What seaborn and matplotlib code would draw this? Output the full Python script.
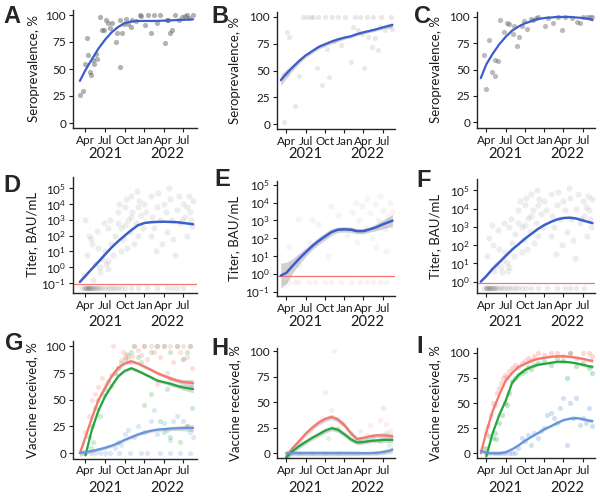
import numpy as np
import pandas as pd
import matplotlib
matplotlib.use("Agg")
import matplotlib.pyplot as plt
import matplotlib.transforms as mtrans
from matplotlib.ticker import NullLocator, FixedLocator
import seaborn as sns

# ---------------------------------------------------------------- data
# smoothed-curve grid
curve_dates = ["2021-03-06", "2021-04-01", "2021-05-01", "2021-06-01", "2021-07-01", "2021-08-01",
               "2021-09-01", "2021-10-01", "2021-11-01", "2021-12-01", "2022-01-01", "2022-02-01",
               "2022-03-01", "2022-04-01", "2022-05-01", "2022-06-01", "2022-07-01", "2022-08-01",
               "2022-08-16"]
nan = np.nan

# Row 1: seroprevalence (%)
a_curve = [39, 49, 59, 69, 77, 84, 89, 92.5, 94, 94.5, 94.5, 94.5, 94.5, 94.8, 95, 95.3, 95.5, 95.8, 96]
b_curve = [41, 47, 53, 59, 64, 68, 72, 74.5, 77, 79, 80.7, 82, 84, 85.7, 87, 88.5, 90.3, 91.8, 92.5]
b_band = [5, 4, 3, 2.5, 2, 2, 2, 2, 2, 2, 1.5, 1.5, 1.5, 1.5, 1.5, 1.5, 1.5, 2, 2.5]
c_curve = [42, 55, 65, 74, 81, 87, 91, 94, 96, 98, 99, 99.5, 100, 100, 100, 99.5, 99, 98, 97]

# points: months since 2021-03-01, value
a_pts_m = [0.2, 0.7, 1.2, 1.0, 1.4, 1.7, 1.9, 2.2, 2.4, 2.7, 2.8, 3.2, 3.5, 3.8, 4.2, 4.4, 4.8, 5.1,
           5.7, 5.9, 6.3, 6.6, 6.9, 7.3, 7.6, 8.0, 8.2, 8.7, 9.3, 9.5, 10.2, 10.6, 11.1, 11.5, 11.9,
           12.4, 13.2, 13.5, 13.7, 14.0, 14.3, 14.7, 15.3, 15.8, 16.3, 16.6, 16.8, 17.5, 6.3]
a_pts_v = [26, 30, 79, 55, 63, 47, 44, 58, 55, 64, 59, 98, 86, 86, 95, 93, 88, 93,
           75, 83, 95, 83, 92, 96, 92, 89, 95, 94, 100, 99, 91, 100, 83, 100, 93,
           100, 74, 95, 95, 83, 86, 100, 95, 98, 99, 100, 97, 100, 52]
b_pts_m = [0.6, 1.1, 1.5, 1.2, 2.3, 3.0, 4.3, 5.1, 5.8, 6.6, 7.0, 7.4, 7.7, 8.1, 8.5, 9.1, 9.5, 10.1,
           11.0, 11.4, 11.7, 12.1, 12.4, 12.8, 13.1, 13.5, 13.7, 14.3, 14.5, 14.8, 15.2, 15.6, 15.8,
           16.4, 16.9, 17.3, 17.5, 3.6, 4.8, 6.0]
b_pts_v = [2, 86, 81, 47, 17, 45, 100, 100, 52, 36, 100, 70, 44, 100, 78, 100, 74, 100,
           58, 91, 100, 88, 100, 84, 52, 100, 81, 72, 100, 80, 69, 91, 100,
           88, 92, 100, 89, 100, 100, 100]
c_pts_m = [1.0, 0.6, 1.5, 1.9, 2.3, 2.4, 2.8, 3.2, 3.7, 4.2, 4.5, 5.1, 5.3, 5.8, 6.1, 6.5, 6.9, 7.3,
           7.9, 8.2, 8.7, 9.1, 10.1, 10.6, 11.4, 12.2, 12.7, 13.2, 14.3, 15.1, 15.6, 16.1, 16.6,
           17.2, 17.5]
c_pts_v = [32, 64, 78, 48, 44, 59, 58, 97, 86, 94, 93, 84, 91, 72, 81, 91, 96, 89,
           98, 97, 99, 100, 91, 99, 94, 100, 88, 100, 99, 95, 94, 100, 100, 100, 100]

# Row 2: titer (log10 BAU/mL)
d_curve = [-0.93, -0.55, -0.1, 0.35, 0.8, 1.25, 1.65, 2.0, 2.35, 2.65, 2.8, 2.85, 2.87, 2.88, 2.87,
           2.85, 2.8, 2.75, 2.72]
e_curve = [-0.1, 0.05, 0.45, 0.85, 1.2, 1.55, 1.85, 2.1, 2.35, 2.48, 2.5, 2.48, 2.4, 2.4, 2.5,
           2.62, 2.78, 2.92, 2.99]
e_band = [0.7, 0.6, 0.4, 0.3, 0.25, 0.2, 0.2, 0.2, 0.18, 0.15, 0.15, 0.15, 0.15, 0.15, 0.15,
          0.2, 0.25, 0.3, 0.35]
f_curve = [0.0, 0.3, 0.7, 1.05, 1.4, 1.75, 2.05, 2.35, 2.62, 2.88, 3.1, 3.27, 3.4, 3.48, 3.5,
           3.45, 3.35, 3.25, 3.2]
d_cutoff, e_cutoff, f_cutoff = 0.093, 0.78, 0.81
d_floor, e_floor, f_floor = 0.047, 0.36, 0.44

d_cloud_m = [1.0, 1.5, 2.0, 2.5, 3.3, 3.3, 3.5, 2.8, 4.0, 4.5, 5.0, 4.8, 1.2, 0.8, 2.2, 3.0, 5.5, 5.3,
             3.8, 1.8, 4.2, 4.4, 4.5,
             6.0, 6.2, 6.5, 6.8, 7.0, 7.2, 7.5, 7.8, 8.0, 8.2, 8.5, 8.7, 9.0, 9.2, 9.5, 9.8, 10.0,
             6.5, 7.4, 8.9, 10.3, 6.0, 7.0, 8.0, 9.0,
             11.0, 11.2, 11.5, 12.0, 12.2, 12.5, 12.8, 13.0, 13.3, 13.5, 14.0, 14.2, 14.5, 15.0,
             15.3, 15.5, 16.0, 16.2, 16.5, 16.8, 17.0, 17.3, 17.5, 11.8, 14.8, 16.6, 13.8, 11.0,
             15.8, 17.2]
d_cloud_v = [3.0, 2.0, 1.5, 0.2, 0.0, -0.3, 0.5, 2.3, 1.0, 2.5, 1.5, 3.0, 0.8, -0.5, -0.8, 1.2, 2.0,
             0.8, 2.8, 1.8, 0.2, -0.1, 0.4,
             3.5, 4.0, 2.5, 1.8, 3.8, 4.3, 3.0, 2.2, 4.5, 3.5, 1.5, 2.8, 3.8, 4.2, 3.3, 2.5, 4.0,
             1.0, 1.2, 4.8, 3.5, 2.8, 2.7, 3.2, 2.0,
             4.5, 3.2, 2.5, 3.8, 4.7, 3.0, 1.5, 4.0, 3.5, 2.2, 4.3, 3.0, 1.8, 3.6,
             4.5, 2.8, 4.0, 3.2, 3.8, 4.5, 3.5, 2.6, 4.2, 1.0, 0.8, 2.0, 5.0, 2.0,
             3.0, 3.0]
d_floor_m = [0.5, 0.8, 1.0, 1.1, 1.2, 1.3, 1.4, 1.5, 1.6, 1.7, 1.8, 2.0, 2.1, 2.3, 2.5, 2.8, 3.0,
             3.3, 3.6, 4.0, 4.4, 4.8, 5.2, 5.6, 6.0, 6.5, 7.0, 8.0, 9.0, 10.5, 12.0, 13.5, 14.2,
             15.0, 16.0]

e_cloud_m = [1.5, 3.0, 4.5, 6.0, 7.5, 9.0, 10.5, 11.2, 11.8, 12.3, 12.8, 13.2, 13.6, 14.0, 14.4,
             14.8, 15.2, 15.6, 16.0, 16.4, 16.8, 17.2, 17.5, 15.0, 12.0, 8.0, 5.0, 16.5, 2.9]
e_cloud_v = [1.5, 0.5, 1.8, 2.8, 1.0, 3.3, 2.2, 3.5, 4.0, 3.0, 3.8, 2.6, 4.2, 3.4, 2.0,
             3.9, 3.0, 4.4, 3.6, 2.5, 3.2, 4.0, 3.5, 1.5, 1.8, 3.8, 3.0, 1.3, 3.07]
e_floor_m = [0.8, 1.5, 2.3, 3.0, 4.5, 5.5, 7.0, 8.0, 9.5, 11.0, 12.5, 13.5, 14.5, 15.5, 16.5]

f_cloud_m = [1.9, 1.5, 2.0, 2.5, 3.3, 3.4, 3.6, 2.8, 4.0, 4.5, 5.0, 4.8, 1.2, 2.2, 3.0, 5.5, 5.3,
             3.8, 4.3, 4.5, 4.4,
             6.0, 6.2, 6.5, 6.8, 7.0, 7.2, 7.5, 7.8, 8.0, 8.2, 8.5, 8.7, 9.0, 9.2, 9.5, 9.8, 10.0,
             6.5, 7.4, 8.9, 10.3, 6.0, 7.0, 8.0, 9.0,
             11.0, 11.2, 11.5, 12.0, 12.2, 12.5, 12.8, 13.0, 13.3, 13.5, 14.0, 14.2, 14.5, 15.0,
             15.3, 15.5, 16.0, 16.2, 16.5, 16.8, 17.0, 17.3, 17.5, 11.8, 14.8, 16.6, 13.8, 11.0,
             15.8, 17.2]
f_cloud_v = [3.1, 2.4, 2.0, 0.9, 0.8, 0.5, 1.2, 2.8, 1.6, 3.0, 2.1, 3.4, 1.4, 0.6, 1.8, 2.6, 1.4,
             3.2, 1.0, 0.8, 0.6,
             3.9, 4.4, 3.0, 2.3, 4.2, 4.6, 3.5, 2.7, 4.8, 3.9, 2.1, 3.2, 4.2, 4.5, 3.7, 3.0, 4.4,
             1.6, 1.8, 5.0, 3.9, 3.2, 3.1, 3.6, 2.5,
             4.8, 3.6, 3.0, 4.2, 4.9, 3.4, 2.0, 4.4, 3.9, 2.7, 4.6, 3.4, 2.3, 4.0,
             4.8, 3.2, 4.4, 3.6, 4.1, 4.7, 3.9, 3.0, 4.5, 1.5, 1.3, 2.5, 5.1, 2.5,
             3.4, 3.4]
f_floor_m = [0.6, 0.9, 1.0, 1.2, 1.3, 1.4, 1.5, 1.6, 1.7, 1.9, 2.0, 2.2, 2.4, 2.6, 2.9, 3.2, 3.5,
             3.8, 4.2, 4.6, 5.0, 5.5, 6.0, 6.5, 7.2, 8.0, 9.0, 10.5, 12.0, 13.2, 14.0, 15.0, 16.2]

# Row 3: vaccine received (%)
g_red = [0, 15, 33, 50, 61, 72, 80, 84, 86, 84, 81, 78, 75, 72.5, 70, 68, 66.5, 66, 65.5]
g_green = [nan, -2, 22, 40, 53, 63, 72, 77, 79.5, 77, 74, 71, 68, 66.5, 65, 63, 61.5, 60.5, 60]
g_blue = [0, 1, 2, 3.5, 5, 7, 9.5, 12.5, 15, 17.5, 19.5, 21, 22, 22.5, 23, 23.3, 23.5, 23.5, 23.5]
g_band = [3, 2, 1.5, 1.5, 1.5, 1.5, 1.5, 1.5, 1.5, 1.5, 1.5, 1.5, 1.5, 1.5, 2, 2, 2.5, 3, 3.5]
h_red = [nan, -3, 5, 12, 19, 25, 30, 33.5, 35.5, 33, 27.5, 19.5, 14, 15, 16.5, 17.5, 17.5, 17, 16.5]
h_green = [nan, -4, 2, 7, 11, 15, 18.5, 22, 24.5, 23, 18.5, 13.5, 10.5, 11, 12, 12.5, 13, 13, 13]
h_blue = [nan, 0, 0, 0, 0, 0, 0, 0, 0, 0, 0, 0, 0, 0, 0, 0.3, 1, 2.3, 3.5]
h_band = [3, 3, 2.5, 2.5, 2.5, 2.5, 2.5, 2.5, 2.5, 2.5, 2.5, 2.5, 2, 2, 2, 2, 2.5, 2.5, 3]
i_red = [0, 21, 42, 58, 72, 80, 86, 89, 92, 94, 95, 96, 96.5, 96.5, 96, 95, 94, 92.5, 92]
i_green = [nan, -3, 20, 38, 52, 70, 78, 83, 86, 88, 89, 90, 91, 91, 90.5, 89.5, 88, 86.5, 86]
i_blue = [2.5, 0.5, 0, 0, 1, 4, 8, 12.5, 16.5, 20, 24, 27, 30, 33, 34.5, 35, 34, 32.5, 32]
i_band = [2, 1.5, 1, 1, 1, 1, 1, 1, 1, 1, 1, 1, 1, 1, 1, 1, 1.5, 1.5, 2]

g_red_m = [1.0, 1.5, 2.0, 2.5, 3.0, 3.5, 4.2, 5.0, 5.5, 6.0, 6.5, 6.8, 7.0, 7.3, 7.6, 8.0, 8.2, 8.5,
           9.0, 9.5, 10.0, 10.5, 11.0, 11.5, 12.0, 12.5, 13.0, 13.5, 14.0, 14.5, 15.0, 15.5, 16.0,
           16.5, 17.0, 17.3, 5.2, 12.0, 14.0, 16.0]
g_red_v = [20, 35, 50, 55, 62, 70, 65, 73, 75, 80, 87, 95, 90, 93, 88, 85, 91, 100,
           97, 92, 100, 88, 100, 95, 100, 90, 100, 75, 100, 85, 100, 95, 100,
           90, 100, 80, 100, 65, 70, 88]
g_green_m = [1.5, 1.8, 2.0, 2.2, 2.5, 3.0, 3.2, 3.5, 4.0, 4.5, 5.0, 5.5, 6.0, 6.5, 7.0, 7.5, 8.0,
             8.5, 9.0, 9.5, 10.0, 10.0, 11.0, 11.0, 12.0, 12.5, 13.0, 13.0, 13.5, 14.0, 14.0, 15.0,
             15.5, 16.0, 16.5, 16.5, 17.0, 17.3]
g_green_v = [15, 5, 25, 10, 42, 50, 35, 55, 60, 68, 63, 75, 80, 84, 88, 92, 95,
             100, 90, 85, 100, 45, 95, 55, 100, 30, 100, 20, 60, 95, 15, 100,
             10, 88, 95, 25, 100, 42]
g_blue_m = [1.0, 1.8, 2.5, 3.2, 4.0, 4.8, 5.5, 6.0, 6.5, 7.0, 7.5, 8.5, 9.0, 10.0, 11.0, 11.5, 12.0,
            13.0, 13.5, 14.0, 14.5, 15.0, 16.0, 16.5, 17.0, 17.5,
            6.2, 7.8, 9.5, 10.5, 12.5, 14.0, 15.5, 17.0]
g_blue_v = [0, 0, 0, 0, 0, 0, 5, 10, 8, 18, 22, 15, 25, 20, 30, 40, 18,
            28, 22, 12, 30, 35, 30, 25, 20, 15,
            0, 0, 0, 0, 0, 0, 0, 0]

h_red_m = [8.5, 7.0, 8.0, 9.5, 11.0, 12.5, 14.0, 15.5, 16.5, 13.5, 6.5, 17.2]
h_red_v = [100, 60, 42, 30, 20, 22, 28, 33, 29, 18, 35, 22]
h_green_m = [16.0, 12.0, 12.5, 13.5, 14.5, 15.5, 16.5, 17.0, 9.0, 7.5]
h_green_v = [44, 13, 11, 13, 15, 12, 20, 8, 25, 15]
h_blue_m = [1.0, 3.0, 5.0, 7.0, 9.0, 12.0, 15.0]
h_blue_v = [0, 0, 0, 0, 0, 0, 0]

i_red_m = [0.5, 1.0, 1.3, 1.7, 2.0, 2.3, 2.7, 3.0, 3.3, 3.6, 4.0, 4.3, 4.6, 5.0, 5.5, 6.0, 6.5, 7.0,
           7.5, 8.0, 8.5, 9.0, 10.0, 11.0, 12.0, 13.0, 14.0, 15.0, 16.0, 17.0, 17.5]
i_red_v = [5, 20, 27, 38, 50, 48, 60, 65, 70, 75, 78, 76, 82, 85, 88, 86, 90, 92,
           95, 93, 97, 100, 98, 100, 100, 97, 100, 95, 100, 100, 97]
i_green_m = [1.0, 1.5, 2.0, 2.3, 2.6, 3.0, 3.5, 4.0, 4.3, 4.6, 5.0, 5.5, 6.0, 6.5, 7.0, 7.5, 8.0,
             8.5, 9.0, 10.0, 11.0, 12.0, 13.0, 13.5, 14.0, 15.0, 16.0, 17.0, 17.5]
i_green_v = [5, 17, 15, 20, 14, 30, 38, 50, 48, 60, 72, 75, 78, 80, 82, 86, 84,
             88, 90, 92, 88, 95, 92, 75, 100, 87, 90, 85, 80]
i_blue_m = [1.0, 1.5, 2.0, 2.5, 3.0, 3.5, 4.0, 4.5, 5.0, 5.5, 6.0, 6.5, 7.0, 7.5, 8.0, 8.5, 9.0,
            9.5, 10.0, 10.5, 11.0, 11.5, 12.0, 12.5, 13.0, 13.5, 14.0, 14.5, 15.0, 15.5, 16.0,
            16.5, 17.0, 17.5]
i_blue_v = [0, 0, 0, 0, 0, 0, 0, 0, 0, 0, 5, 15, 12, 18, 8, 20, 15,
            22, 25, 38, 40, 35, 30, 45, 55, 8, 50, 35, 55, 28, 35,
            30, 45, 27]

# axes text
month_ticks = ["2021-04-01", "2021-07-01", "2021-10-01", "2022-01-01", "2022-04-01", "2022-07-01"]
month_labels = ["Apr", "Jul", "Oct", "Jan", "Apr", "Jul"]
year_labels = ["2021", "2022"]
year_pos = ["2021-07-01", "2022-04-17"]
pct_ticks = [0, 25, 50, 75, 100]

# ---------------------------------------------------------------- style
sns.set_theme(style="ticks")
plt.rcParams["font.family"] = ["Lato", "DejaVu Sans"]
plt.rcParams["axes.linewidth"] = 1.0

RED, GREEN, BLUE3 = "#F8766D", "#22A83C", "#6495E0"
SMOOTH = "#3A5FCD"
INK = "#1a1a1a"
BASE = pd.Timestamp("2021-03-01")
cd = pd.to_datetime(curve_dates)


def mdate(m):
    return BASE + pd.to_timedelta(np.asarray(m, float) * 30.44, unit="D")


W, H = 600, 497
fig = plt.figure(figsize=(W / 100, H / 100), dpi=100)


def add_ax(x0, x1, top, bot):
    return fig.add_axes([x0 / W, 1 - bot / H, (x1 - x0) / W, (bot - top) / H])


XL_A = (pd.Timestamp("2021-02-02"), pd.Timestamp("2022-09-03"))
XL_B = (pd.Timestamp("2021-02-16"), pd.Timestamp("2022-08-28"))


def finish(ax, xl, ylabel, labx, letter, lx, ly, year_y):
    ax.set_xlim(*xl)
    ax.set_xticks(pd.to_datetime(month_ticks))
    ax.set_xticklabels(month_labels)
    ax.tick_params(axis="both", labelsize=8.5, length=3, width=0.8, pad=2, colors=INK)
    ax.set_xlabel("")
    ax.set_ylabel(ylabel, fontsize=9.5, color=INK)
    ax.yaxis.set_label_coords(labx, 0.5)
    sns.despine(ax=ax)
    tr = mtrans.blended_transform_factory(ax.transData, fig.transFigure)
    for lab, pos in zip(year_labels, year_pos):
        ax.text(pd.Timestamp(pos), 1 - year_y / H, lab, transform=tr, ha="center", va="center",
                fontsize=10.5, color=INK)
    fig.text(lx / W, 1 - ly / H, letter, ha="left", va="center", fontsize=17, fontweight="bold",
             family=["Liberation Sans", "DejaVu Sans"])


# ---- Row 1
def sero(ax, pts_m, pts_v, curve, alpha, band=None):
    sns.scatterplot(x=mdate(pts_m), y=pts_v, ax=ax, color="#555555", alpha=alpha, s=14,
                    linewidth=0, legend=False)
    if band is not None:
        c = np.array(curve, float)
        b = np.array(band, float)
        ax.fill_between(cd, c - b, c + b, color="#999999", alpha=0.45, lw=0)
    sns.lineplot(x=cd, y=curve, ax=ax, color=SMOOTH, linewidth=1.6)
    ax.set_ylim(-5, 105)
    ax.set_yticks(pct_ticks)


axA = add_ax(73, 197, 9.6, 128.4)
sero(axA, a_pts_m, a_pts_v, a_curve, 0.45)
finish(axA, XL_A, "Seroprevalence, %", -0.27, "A", 3, 16.5, 153.5)

axB = add_ax(277, 395, 11.6, 129.4)
sero(axB, b_pts_m, b_pts_v, b_curve, 0.13, band=b_band)
finish(axB, XL_B, "Seroprevalence, %", -0.305, "B", 211, 16.5, 153.5)

axC = add_ax(477, 595, 11.7, 127.6)
sero(axC, c_pts_m, c_pts_v, c_curve, 0.4)
finish(axC, XL_B, "Seroprevalence, %", -0.30, "C", 414, 16.5, 153.5)


# ---- Row 2
def titer(ax, cm, cv, floor_m, floor_v, curve, cutoff, ylim, yt, cloud_alpha, band=None):
    sns.scatterplot(x=mdate(cm), y=10 ** np.array(cv, float), ax=ax, color="#555555",
                    alpha=cloud_alpha, s=20, linewidth=0, legend=False)
    sns.scatterplot(x=mdate(floor_m), y=[floor_v] * len(floor_m), ax=ax, color="#444444",
                    alpha=cloud_alpha, s=16, linewidth=0, legend=False)
    ax.set_yscale("log")
    ax.axhline(cutoff, color=RED, lw=0.9)
    c = np.array(curve, float)
    if band is not None:
        b = np.array(band, float)
        ax.fill_between(cd, 10 ** (c - b), 10 ** (c + b), color="#999999", alpha=0.45, lw=0)
    sns.lineplot(x=cd, y=10 ** c, ax=ax, color=SMOOTH, linewidth=1.8)
    ax.set_ylim(*ylim)
    ax.yaxis.set_major_locator(FixedLocator(yt))
    ax.yaxis.set_minor_locator(NullLocator())


axD = add_ax(73, 197, 176.7, 293)
titer(axD, d_cloud_m, d_cloud_v, d_floor_m, d_floor, d_curve, d_cutoff, (10 ** -1.63, 10 ** 5.73),
      [1e-1, 1e0, 1e1, 1e2, 1e3, 1e4, 1e5], 0.1)
finish(axD, XL_A, "Titer, BAU/mL", -0.28, "D", 3, 185, 322)

axE = add_ax(277, 395, 181, 296)
titer(axE, e_cloud_m, e_cloud_v, e_floor_m, e_floor, e_curve, e_cutoff, (10 ** -1.25, 10 ** 5.22),
      [1e-1, 1e0, 1e1, 1e2, 1e3, 1e4, 1e5], 0.06, band=e_band)
finish(axE, XL_B, "Titer, BAU/mL", -0.31, "E", 214, 180, 322)

axF = add_ax(477, 595, 179.3, 293.3)
titer(axF, f_cloud_m, f_cloud_v, f_floor_m, f_floor, f_curve, f_cutoff, (10 ** -0.64, 10 ** 5.6),
      [1e0, 1e1, 1e2, 1e3, 1e4, 1e5], 0.1)
finish(axF, XL_B, "Titer, BAU/mL", -0.30, "F", 416, 180.5, 322)


# ---- Row 3
def vacc(ax, series, band, ylim, alpha):
    for (pm, pv, col, _) in series:
        sns.scatterplot(x=mdate(pm), y=pv, ax=ax, color=col, alpha=alpha, s=14, linewidth=0,
                        legend=False)
    b = np.array(band, float)
    for (_, _, col, curve) in series:
        c = np.array(curve, float)
        ax.fill_between(cd, c - b, c + b, color="#999999", alpha=0.4, lw=0)
    for (_, _, col, curve) in reversed(series):
        sns.lineplot(x=cd, y=curve, ax=ax, color=col, linewidth=1.6)
    ax.set_ylim(*ylim)
    ax.set_yticks(pct_ticks)


axG = add_ax(73, 197, 341, 458.5)
vacc(axG, [(g_blue_m, g_blue_v, BLUE3, g_blue), (g_green_m, g_green_v, GREEN, g_green),
           (g_red_m, g_red_v, RED, g_red)], g_band, (-5, 105), 0.22)
finish(axG, XL_A, "Vaccine received, %", -0.28, "G", 5, 343.5, 488)

axH = add_ax(277, 395, 347.7, 458.3)
vacc(axH, [(h_blue_m, h_blue_v, BLUE3, h_blue), (h_green_m, h_green_v, GREEN, h_green),
           (h_red_m, h_red_v, RED, h_red)], h_band, (-5, 103.5), 0.13)
finish(axH, XL_B, "Vaccine received, %", -0.30, "H", 211, 348.5, 488)

axI = add_ax(477, 595, 347.7, 458.3)
vacc(axI, [(i_blue_m, i_blue_v, BLUE3, i_blue), (i_green_m, i_green_v, GREEN, i_green),
           (i_red_m, i_red_v, RED, i_red)], i_band, (-5, 105), 0.28)
finish(axI, XL_B, "Vaccine received, %", -0.30, "I", 416, 346.5, 488)

fig.savefig("out.png", dpi=100, facecolor="white")
